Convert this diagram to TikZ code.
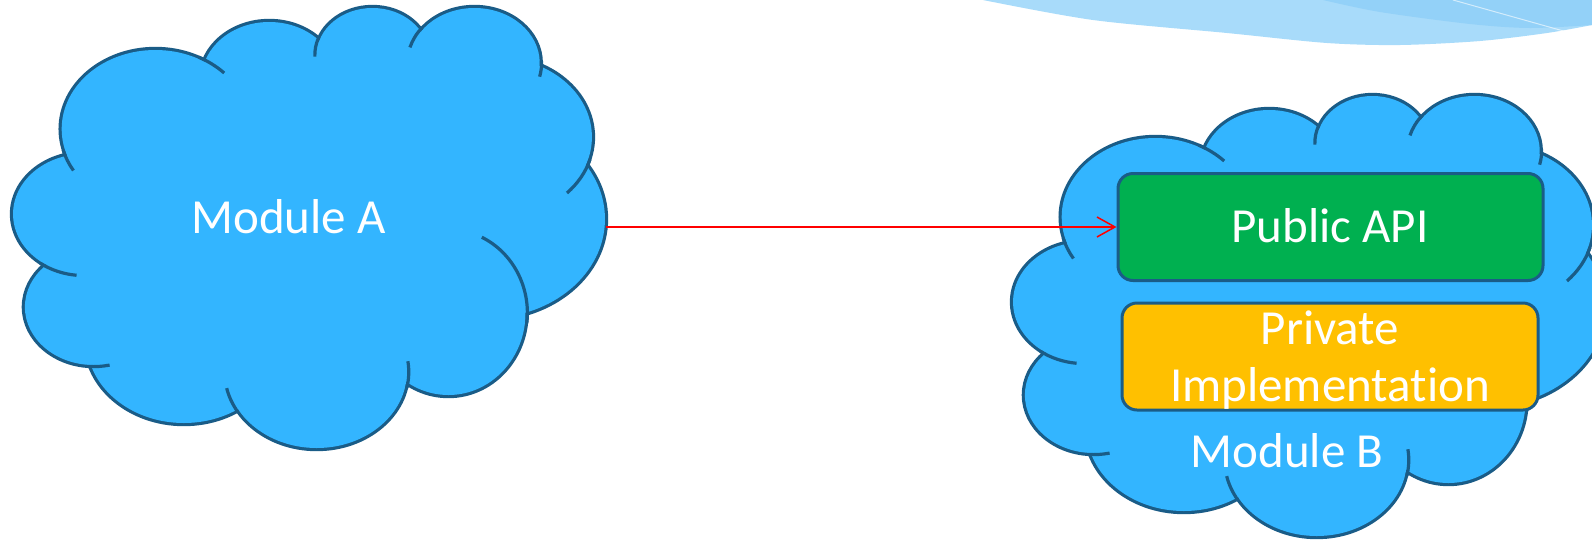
\documentclass[tikz,border=0pt]{standalone}
\usepackage{fontspec}
\setmainfont{Carlito}[Ligatures=NoCommon]
\usetikzlibrary{arrows.meta}
\definecolor{cloudfill}{HTML}{33B5FF}
\definecolor{cloudline}{HTML}{1A5C87}
\definecolor{apigreen}{HTML}{00B050}
\definecolor{implgold}{HTML}{FFC000}
\definecolor{swooshA}{HTML}{A8DBFA}
\definecolor{swooshB}{HTML}{93D1F8}
\newcommand{\cloudlobes}{(71,214) circle[radius=60] (79,307) circle[radius=58] (155,341) circle[radius=82] (267,372) circle[radius=76] (378,313) ellipse[x radius=65,y radius=82] (411,219) circle[radius=99] (420,137) circle[radius=79] (400,63) circle[radius=55] (314,55) circle[radius=47] (227,79) circle[radius=57] (131,129) circle[radius=79]}
\tikzset{
  lbl/.style={font=\fontsize{49}{58}\selectfont, text=white, inner sep=0pt},
  boxstyle/.style={draw=cloudline, line width=3pt, rounded corners=15pt, inner sep=0pt},
  crease/.style={draw=cloudline, line width=3.2pt},
  cloudpic/.pic={
    \begin{scope}[x=1.1862pt,y=-1pt]
      \draw[cloudline, line width=6.4pt] \cloudlobes;
      \fill[cloudfill] (71,214) -- (79,307) -- (155,341) -- (267,372) -- (378,313) -- (411,219) -- (420,137) -- (400,63) -- (314,55) -- (227,79) -- (131,129) -- cycle;
      \fill[cloudfill] \cloudlobes;
      \draw[crease] (131,129) ++(165:80.6) arc[start angle=165, end angle=149, radius=80.6];
      \draw[crease] (131,129) ++(297:80.6) arc[start angle=297, end angle=316, radius=80.6];
      \draw[crease] (314,55) ++(201:48.6) arc[start angle=201, end angle=178, radius=48.6];
      \draw[crease] (400,63) ++(219:56.6) arc[start angle=219, end angle=196, radius=56.6];
      \draw[crease] (400,63) ++(-2:56.6) arc[start angle=-2, end angle=14, radius=56.6];
      \draw[crease] (420,137) ++(16:80.6) arc[start angle=16, end angle=44, radius=80.6];
      \draw[crease] (378,313) ++(7:66.6 and 83.6) arc[start angle=7, end angle=-65, x radius=66.6, y radius=83.6];
      \draw[crease] (267,372) ++(12:77.6) arc[start angle=12, end angle=-8, radius=77.6];
      \draw[crease] (267,372) ++(149:77.6) arc[start angle=149, end angle=168, radius=77.6];
      \draw[crease] (79,307) ++(95:59.6) arc[start angle=95, end angle=77, radius=59.6];
      \draw[crease] (71,214) ++(127:61.6) arc[start angle=127, end angle=96, radius=61.6];
    \end{scope}
  }
}
\begin{document}
\begin{tikzpicture}[x=1pt,y=-1pt]
\useasboundingbox (0,0) rectangle (1592,539);
\clip (0,0) rectangle (1592,539);
% decorative swoosh
\fill[swooshA] plot[smooth] coordinates {(983,0) (1093,20) (1227,33) (1327,43) (1400,45) (1480,41) (1547,33) (1592,25)} -- (1600,25) -- (1600,-2) -- (983,-2) -- cycle;
\fill[swooshB] plot[smooth] coordinates {(1323,0) (1380,12) (1470,24) (1530,28) (1592,25)} -- (1600,25) -- (1600,-2) -- (1323,-2) -- cycle;
\draw[white, opacity=0.6, line width=1pt] (1453,0) -- (1567,32);
% clouds
\pic (cloudA) at (0,0) {cloudpic};
\pic (cloudB) at (1000,88) {cloudpic};
% boxes
\node[boxstyle, fill=apigreen, minimum width=425pt, minimum height=107pt] (api) at (1330.5,227) {};
\node[boxstyle, fill=implgold, minimum width=416pt, minimum height=107pt] (priv) at (1330,356.5) {};
% labels
\node[lbl, anchor=base] (modA) at (288.6,233.3) {Module A};
\node[lbl, anchor=base] (modB) at (1287,467.7) {Module B};
\node[lbl, anchor=base] (apitxt) at (1330,242.7) {Public API};
\node[lbl, anchor=base] (privtxt1) at (1330,344) {Private};
\node[lbl, anchor=base] (privtxt2) at (1330,401.7) {Implementation};
% connector
\coordinate (aedge) at (606,227);
\draw[red, line width=1.5pt, -{Straight Barb[length=18pt,width=20pt]}] (aedge) -- (api.west);
\end{tikzpicture}
\end{document}
